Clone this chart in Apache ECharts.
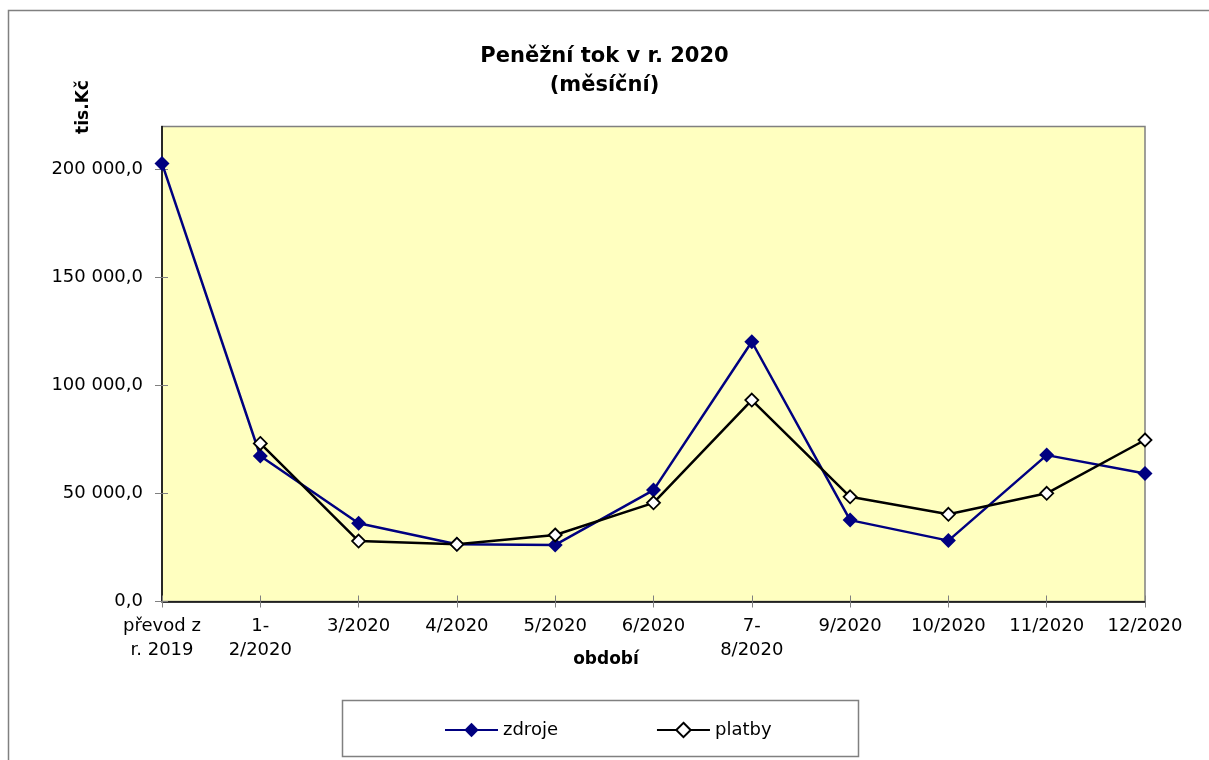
<!DOCTYPE html>
<html>
<head>
<meta charset="utf-8">
<script src="https://cdn.jsdelivr.net/npm/echarts@6/dist/echarts.min.js"></script>
<style>
html,body{margin:0;padding:0;background:#fff;}
#chart{width:1209px;height:760px;}
</style>
</head>
<body>
<div id="chart"></div>
<script>
var categories = ['převod z\nr. 2019', '1-\n2/2020', '3/2020', '4/2020', '5/2020', '6/2020', '7-\n8/2020', '9/2020', '10/2020', '11/2020', '12/2020'];
var zdroje = [202900, 67400, 36200, 26500, 26200, 51600, 120300, 37700, 28200, 67800, 59300];
var platby = [null, 73200, 28000, 26500, 30800, 45700, 93300, 48500, 40400, 50100, 74800];
var yTicks = [0, 50000, 100000, 150000, 200000];

var FONT = 'DejaVu Sans';
function fmt(v) {
  var s = Math.round(v).toString().replace(/\B(?=(\d{3})+(?!\d))/g, ' ');
  return s + ',0';
}

var chart = echarts.init(document.getElementById('chart'), null, {renderer: 'canvas'});
var option = {
  animation: false,
  backgroundColor: '#ffffff',
  textStyle: {fontFamily: FONT},
  title: {
    text: 'Peněžní tok v r. 2020\n(měsíční)',
    left: 'center',
    top: 37,
    textStyle: {fontFamily: FONT, fontSize: 21, fontWeight: 'bold', color: '#000', lineHeight: 29}
  },
  grid: {
    left: 162, right: 64, top: 126.5, bottom: 158.5,
    show: true, backgroundColor: '#FFFFC0', borderColor: '#808080', borderWidth: 1.5
  },
  legend: {
    left: 439, top: 716,
    itemWidth: 53, itemHeight: 18, itemGap: 98,
    textStyle: {fontFamily: FONT, fontSize: 18, color: '#000'},
    data: ['zdroje', 'platby']
  },
  xAxis: [{
    type: 'category',
    data: categories,
    boundaryGap: false,
    axisLine: {lineStyle: {color: '#000', width: 1.5}},
    axisTick: {show: true, length: 6, lineStyle: {color: '#808080'}},
    axisLabel: {fontFamily: FONT, fontSize: 18, color: '#000', lineHeight: 24, margin: 13, interval: 0},
    splitLine: {show: false}
  }, {
    type: 'category',
    data: categories,
    boundaryGap: false,
    position: 'bottom',
    axisLine: {show: false},
    axisTick: {show: true, inside: true, length: 6, lineStyle: {color: '#808080'}},
    axisLabel: {show: false},
    splitLine: {show: false}
  }],
  yAxis: [{
    type: 'value',
    min: 0, max: 220000, interval: 50000,
    axisLine: {show: true, lineStyle: {color: '#000', width: 1.5}},
    axisTick: {show: true, length: 7, lineStyle: {color: '#808080'}, customValues: yTicks},
    axisLabel: {fontFamily: FONT, fontSize: 18, color: '#000', margin: 19, formatter: fmt, customValues: yTicks},
    splitLine: {show: false}
  }, {
    type: 'value',
    min: 0, max: 220000, interval: 50000,
    position: 'left',
    axisLine: {show: false},
    axisTick: {show: true, inside: true, length: 6, lineStyle: {color: '#808080'}, customValues: yTicks},
    axisLabel: {show: false},
    splitLine: {show: false}
  }],
  graphic: [
    {type: 'rect', shape: {x: 8.5, y: 10.5, width: 1300, height: 800}, style: {fill: 'none', stroke: '#808080', lineWidth: 1.5}, z: -10},
    {type: 'rect', shape: {x: 342.5, y: 700.5, width: 516, height: 56}, style: {fill: 'none', stroke: '#808080', lineWidth: 1.5}},
    {type: 'text', x: 84, y: 107, rotation: Math.PI / 2,
     style: {text: 'tis.Kč', fontFamily: FONT, fontSize: 17, fontWeight: 'bold', fill: '#000', align: 'center', verticalAlign: 'middle'}},
    {type: 'text', x: 606, y: 660,
     style: {text: 'období', fontFamily: FONT, fontSize: 17, fontWeight: 'bold', fill: '#000', align: 'center', verticalAlign: 'middle'}}
  ],
  series: [{
    name: 'zdroje',
    type: 'line',
    data: zdroje,
    symbol: 'diamond',
    symbolSize: 15,
    lineStyle: {color: '#000080', width: 2.5},
    itemStyle: {color: '#000080', borderColor: '#000080', borderWidth: 0},
    z: 3
  }, {
    name: 'platby',
    type: 'line',
    data: platby,
    symbol: 'diamond',
    symbolSize: 13,
    lineStyle: {color: '#000000', width: 2.5},
    itemStyle: {color: '#ffffff', borderColor: '#000000', borderWidth: 1.8},
    z: 4
  }]
};
chart.setOption(option);
</script>
</body>
</html>
